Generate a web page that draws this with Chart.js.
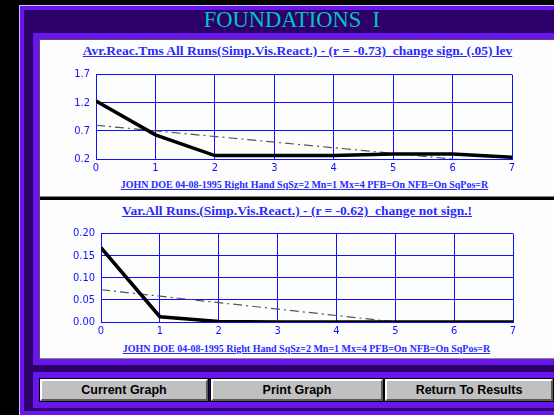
<!DOCTYPE html>
<html>
<head>
<meta charset="utf-8">
<script src="https://cdn.jsdelivr.net/npm/chart.js@4/dist/chart.umd.min.js"></script>
<style>
  html, body { margin: 0; padding: 0; background: #000; width: 554px; height: 415px; overflow: hidden; }
  .abs { position: absolute; }
  #frame { left: 19px; top: 5px; width: 600px; height: 420px; background: #2c0068; border-left: 1px solid #c8c0ff; border-top: 1px solid #c8c0ff; }
  #frameBand { left: 20px; top: 6px; width: 600px; height: 409px; border: 4px solid #6a14ee; box-sizing: border-box; border-right: none; }
  .channel { left: 33px; width: 600px; box-sizing: border-box; border: 6px solid #6a14ee; border-right: none; background: #000; }
  .panel { left: 40px; width: 520px; background: #fdfdfd; }
  .ttl { color: #2a2aff; font-family: "Liberation Serif", "Times New Roman", serif; font-weight: bold; text-decoration: underline; white-space: nowrap; text-align: center; }
  .btn { top: 379px; height: 22px; background: #c0c0c0; box-sizing: border-box; border-top: 2px solid #fff; border-left: 2px solid #fff; border-bottom: 2px solid #5a5a5a; border-right: 2px solid #5a5a5a; outline: 1px solid #000; font: bold 12.5px "Liberation Sans", Arial, sans-serif; text-align: center; line-height: 18px; color: #000; }
  canvas { position: absolute; }
</style>
</head>
<body>
<div id="frame" class="abs"></div>
<div id="frameBand" class="abs"></div>
<div class="abs" style="left:0;top:7px;width:584px;text-align:center;color:#00c4c4;font:22.5px 'Liberation Serif', serif;">FOUNDATIONS&nbsp;&nbsp;I</div>

<div class="abs channel" style="top:33px;height:332px;"></div>
<div class="abs" style="left:39px;top:39px;width:600px;height:1px;background:#555;"></div>
<div class="abs" style="left:39px;top:39px;width:1px;height:320px;background:#555;"></div>
<div class="abs panel" style="top:40px;height:156px;"></div>
<div class="abs" style="left:40px;top:196px;width:520px;height:1px;background:#888;"></div>
<div class="abs panel" style="top:200px;height:158px;"></div>
<div class="abs" style="left:40px;top:358px;width:520px;height:1px;background:#888;"></div>

<div class="abs channel" style="top:372px;height:36px;background:#2c0068;"></div>

<div class="abs ttl" style="left:40px;width:515px;top:43px;font-size:13.5px;">Avr.Reac.Tms All Runs(Simp.Vis.React.) - (r = -0.73)&nbsp; change sign. (.05) lev</div>
<div class="abs ttl" style="left:40px;width:529px;top:179px;font-size:10px;">JOHN DOE 04-08-1995 Right Hand SqSz=2 Mn=1 Mx=4 PFB=On NFB=On SqPos=R</div>
<div class="abs ttl" style="left:40px;width:514px;top:203px;font-size:13.5px;">Var.All Runs.(Simp.Vis.React.) - (r = -0.62)&nbsp; change not sign.!</div>
<div class="abs ttl" style="left:40px;width:533px;top:343px;font-size:10px;">JOHN DOE 04-08-1995 Right Hand SqSz=2 Mn=1 Mx=4 PFB=On NFB=On SqPos=R</div>

<canvas id="topChart" width="514" height="112" style="left:40px;top:62px;"></canvas>
<canvas id="botChart" width="514" height="116" style="left:40px;top:221px;"></canvas>

<div class="abs btn" style="left:40px;width:168px;">Current Graph</div>
<div class="abs btn" style="left:211px;width:172px;">Print Graph</div>
<div class="abs btn" style="left:385px;width:168px;">Return To Results</div>

<script>
// runs on the x axis
const runs = [0, 1, 2, 3, 4, 5, 6, 7];
const xTicks = [0, 1, 2, 3, 4, 5, 6, 7];

// top: average reaction times
const avgReacTimes = [1.23, 0.63, 0.26, 0.26, 0.26, 0.29, 0.29, 0.23];
const avgTrendEnds = [0.80, 0.10];
const yTicksTop = [0.2, 0.7, 1.2, 1.7];

// bottom: variance
const varRuns = [0.168, 0.012, 0.001, 0, 0, 0, 0, 0];
const varTrendEnds = [0.073, -0.029];
const yTicksBot = [0.00, 0.05, 0.10, 0.15, 0.20];

const BLUE = '#1010ff';
const TICK_FONT = { family: '"Liberation Sans Narrow", "DejaVu Sans Condensed", Arial, sans-serif', size: 11 };

function makeChart(id, values, trend, yTicks, digits, yWidth, padRight) {
  const first = runs[0], last = runs[runs.length - 1];
  return new Chart(document.getElementById(id), {
    type: 'line',
    data: {
      datasets: [
        {
          data: runs.map((r, i) => ({ x: r, y: values[i] })),
          borderColor: '#000', borderWidth: 3.5, pointRadius: 0, tension: 0,
        },
        {
          data: [{ x: first, y: trend[0] }, { x: last, y: trend[1] }],
          borderColor: '#555', borderWidth: 1.2, borderDash: [9, 4, 2, 4], pointRadius: 0,
        },
      ],
    },
    options: {
      responsive: false,
      animation: false,
      layout: { padding: { left: 0, right: padRight, top: 10, bottom: 0 } },
      plugins: { legend: { display: false }, tooltip: { enabled: false } },
      scales: {
        x: {
          type: 'linear', min: first, max: last,
          afterBuildTicks: (s) => { s.ticks = xTicks.map(v => ({ value: v })); },
          afterFit: (s) => { s.height = 15; },
          grid: { color: BLUE, drawTicks: false },
          border: { color: BLUE },
          ticks: { color: BLUE, font: TICK_FONT, padding: 3, maxRotation: 0 },
        },
        y: {
          min: yTicks[0], max: yTicks[yTicks.length - 1],
          afterBuildTicks: (s) => { s.ticks = yTicks.map(v => ({ value: v })); },
          afterFit: (s) => { s.width = yWidth; },
          grid: { color: BLUE, drawTicks: false },
          border: { color: BLUE },
          ticks: { color: BLUE, font: TICK_FONT, padding: 6, callback: (v) => Number(v).toFixed(digits) },
        },
      },
    },
  });
}

makeChart('topChart', avgReacTimes, avgTrendEnds, yTicksTop, 1, 56, 42);
makeChart('botChart', varRuns, varTrendEnds, yTicksBot, 2, 61, 41);
</script>
</body>
</html>
